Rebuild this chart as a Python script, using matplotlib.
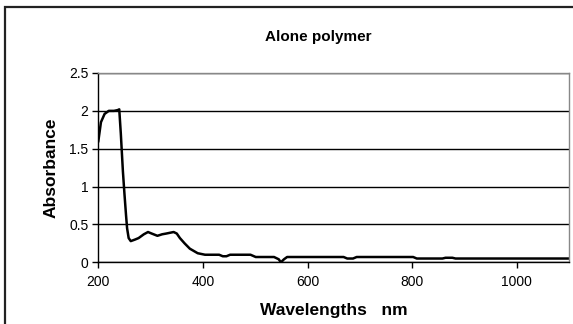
import matplotlib.pyplot as plt
from matplotlib.patches import Rectangle

plt.rcParams['font.family'] = ['Liberation Sans', 'DejaVu Sans']

# absorbance spectrum
wavelength = [200, 205, 212, 220, 230, 237, 240, 243, 247, 250, 253, 255, 258, 262,
              270, 277, 287, 295, 302, 313, 322, 330, 344, 350, 356, 365, 375, 390,
              404, 431, 438, 445, 452, 491, 501, 536, 545, 549, 555, 561, 669, 676,
              687, 694, 802, 809, 858, 864, 869, 877, 883, 1100]
absorbance = [1.60, 1.85, 1.96, 2.00, 2.00, 2.01, 2.02, 1.70, 1.20, 0.90, 0.62, 0.45, 0.32, 0.28,
              0.30, 0.32, 0.37, 0.40, 0.38, 0.35, 0.37, 0.38, 0.40, 0.38, 0.32, 0.25, 0.18, 0.12,
              0.10, 0.10, 0.08, 0.08, 0.10, 0.10, 0.07, 0.07, 0.04, 0.00, 0.04, 0.07, 0.07, 0.05,
              0.05, 0.07, 0.07, 0.05, 0.05, 0.06, 0.06, 0.06, 0.05, 0.05]

fig = plt.figure(figsize=(5.73, 3.24), dpi=100)
ax = fig.add_axes([0.1716, 0.1904, 0.993 - 0.1716, 0.7747 - 0.1904])

ax.plot(wavelength, absorbance, color='black', linewidth=1.8, solid_joinstyle='round')

ax.set_xlim(200, 1100)
ax.set_ylim(0, 2.5)
ax.set_xticks([200, 400, 600, 800, 1000])
ax.set_yticks([0, 0.5, 1, 1.5, 2, 2.5])
ax.set_yticklabels(['0', '0.5', '1', '1.5', '2', '2.5'])
ax.yaxis.grid(True, color='black', linewidth=1.0)
ax.set_axisbelow(True)

for side in ['top', 'right']:
    ax.spines[side].set_color('#888888')
    ax.spines[side].set_linewidth(1.0)
for side in ['left', 'bottom']:
    ax.spines[side].set_color('black')
    ax.spines[side].set_linewidth(1.0)
ax.tick_params(axis='both', direction='out', length=4, width=1, labelsize=10)
ax.tick_params(axis='x', pad=5)
ax.tick_params(axis='y', pad=3)

ax.set_xlabel('Wavelengths   nm', fontsize=12.5, fontweight='bold', labelpad=10)
ax.set_ylabel('Absorbance', fontsize=12.5, fontweight='bold', labelpad=8)
fig.text(0.555, 1 - 37 / 324, 'Alone polymer', ha='center', va='center',
         fontsize=11, fontweight='bold')

# chart outer border (left and top visible, rest cropped)
fig.patches.append(Rectangle((5 / 573, -0.05), 1.1, 1 - 7.5 / 324 + 0.05,
                             transform=fig.transFigure, fill=False,
                             edgecolor='#222222', linewidth=1.6))

fig.savefig('out.png', dpi=100)
